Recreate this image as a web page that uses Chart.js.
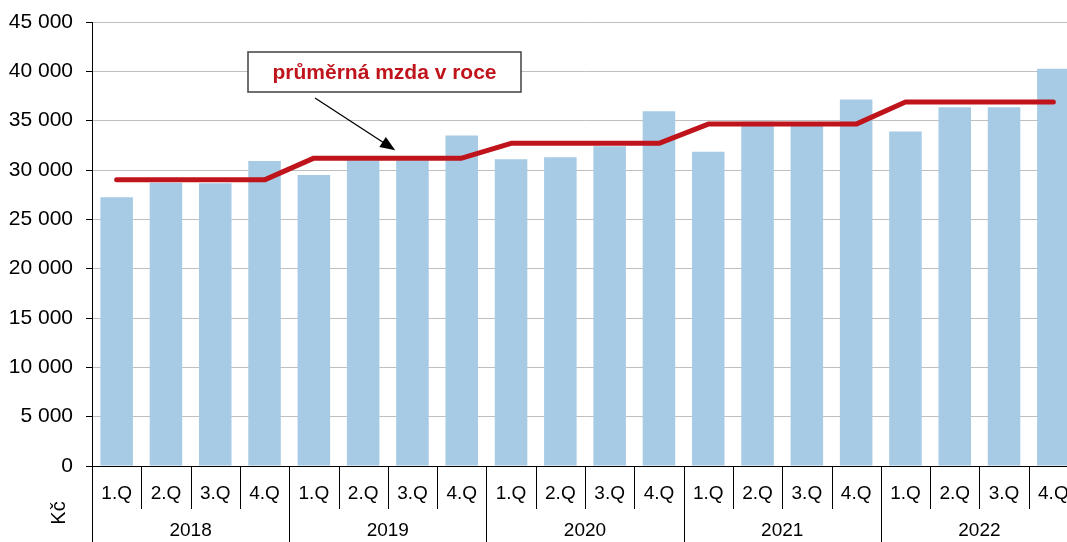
<!DOCTYPE html>
<html>
<head>
<meta charset="utf-8">
<script src="https://cdn.jsdelivr.net/npm/chart.js@4/dist/chart.umd.min.js"></script>
<style>
  html, body { margin: 0; padding: 0; overflow: hidden; background: #fff; }
  #wrap { width: 1080px; height: 542px; }
</style>
</head>
<body>
<div id="wrap"><canvas id="mzdy" width="1080" height="542"></canvas></div>
<script>
// --- data ---
const years = ['2018', '2019', '2020', '2021', '2022'];
const quarters = ['1.Q', '2.Q', '3.Q', '4.Q'];
const quarterWage = [
  27250, 28700, 28650, 30900,
  29500, 31000, 31000, 33500,
  31100, 31300, 32400, 35950,
  31850, 34900, 34600, 37150,
  33900, 36350, 36350, 40250
];
const yearAvg = [29000, 31200, 32700, 34650, 36900];
const yTicks = [0, 5000, 10000, 15000, 20000, 25000, 30000, 35000, 40000, 45000];

const labels = [];
const lineData = [];
years.forEach((y, i) => quarters.forEach(q => { labels.push(q); lineData.push(yearAvg[i]); }));

const FONT = "'Liberation Sans', Arial, sans-serif";

function fmt(v) {
  return String(v).replace(/\B(?=(\d{3})+(?!\d))/g, ' ');
}

// osa x ve dvou urovnich + Kc + popisek s sipkou
const extras = {
  id: 'extras',
  afterDraw(chart) {
    const ctx = chart.ctx;
    const x = chart.scales.x, y = chart.scales.y;
    const base = chart.chartArea.bottom;
    ctx.save();
    ctx.strokeStyle = '#000';
    ctx.lineWidth = 1;
    ctx.beginPath();
    for (let i = 0; i <= labels.length; i++) {
      const px = Math.round(x.getPixelForValue(i - 0.5)) + 0.5;
      ctx.moveTo(px, base);
      ctx.lineTo(px, i % 4 === 0 ? chart.height : base + 43);
    }
    ctx.stroke();

    ctx.fillStyle = '#000';
    ctx.font = '19px ' + FONT;
    ctx.textAlign = 'center';
    ctx.textBaseline = 'middle';
    labels.forEach((l, i) => ctx.fillText(l, x.getPixelForValue(i), base + 28));
    years.forEach((yr, i) => ctx.fillText(yr, x.getPixelForValue(i * 4 + 1.5), base + 65));

    // Kc
    ctx.save();
    ctx.translate(59, base + 47);
    ctx.rotate(-Math.PI / 2);
    ctx.font = '20px ' + FONT;
    ctx.fillText('Kč', 0, 0);
    ctx.restore();

    // popisek
    const bx = 248, by = 52, bw = 273, bh = 40;
    ctx.fillStyle = '#fff';
    ctx.fillRect(bx, by, bw, bh);
    ctx.strokeStyle = '#404040';
    ctx.lineWidth = 1.5;
    ctx.strokeRect(bx, by, bw, bh);
    ctx.fillStyle = '#c0141c';
    ctx.font = 'bold 21px ' + FONT;
    ctx.fillText('průměrná mzda v roce', bx + bw / 2, by + bh / 2 + 1);

    // sipka
    const x0 = 315, y0 = 98;
    const tx = x.getPixelForValue(5.65), ty = y.getPixelForValue(yearAvg[1]) - 8;
    const ang = Math.atan2(ty - y0, tx - x0);
    ctx.strokeStyle = '#000';
    ctx.lineWidth = 1.3;
    ctx.beginPath();
    ctx.moveTo(x0, y0);
    ctx.lineTo(tx - 10 * Math.cos(ang), ty - 10 * Math.sin(ang));
    ctx.stroke();
    ctx.fillStyle = '#000';
    ctx.beginPath();
    ctx.moveTo(tx, ty);
    ctx.lineTo(tx - 15 * Math.cos(ang) + 6 * Math.sin(ang), ty - 15 * Math.sin(ang) - 6 * Math.cos(ang));
    ctx.lineTo(tx - 15 * Math.cos(ang) - 6 * Math.sin(ang), ty - 15 * Math.sin(ang) + 6 * Math.cos(ang));
    ctx.closePath();
    ctx.fill();
    ctx.restore();
  }
};

new Chart(document.getElementById('mzdy').getContext('2d'), {
  type: 'bar',
  data: {
    labels: labels,
    datasets: [
      {
        type: 'line', label: 'průměrná mzda v roce', data: lineData,
        borderColor: '#c0141c', borderWidth: 5, pointRadius: 0,
        borderCapStyle: 'round', borderJoinStyle: 'round', tension: 0, order: 0
      },
      {
        label: 'čtvrtletí', data: quarterWage, backgroundColor: '#a7cbe5',
        categoryPercentage: 1, barPercentage: 0.66, order: 1
      }
    ]
  },
  options: {
    responsive: false,
    animation: false,
    layout: { padding: { top: 22, right: 2, left: 0, bottom: 0 } },
    plugins: { legend: { display: false }, tooltip: { enabled: false } },
    scales: {
      x: {
        offset: true,
        grid: { display: false },
        ticks: { display: false },
        border: { display: true, color: '#000', width: 1 },
        afterFit: s => { s.height = 76; }
      },
      y: {
        min: 0, max: 45000,
        afterBuildTicks: s => { s.ticks = yTicks.map(v => ({ value: v })); },
        ticks: {
          color: '#000', padding: 13,
          font: { family: FONT, size: 21 },
          callback: v => fmt(v)
        },
        grid: { color: '#bfbfbf', tickColor: '#000', tickLength: 6, lineWidth: 1 },
        border: { display: true, color: '#000', width: 1 },
        afterFit: s => { s.width = 92; s.paddingTop = 0; s.paddingBottom = 0; }
      }
    }
  },
  plugins: [extras]
});
</script>
</body>
</html>
